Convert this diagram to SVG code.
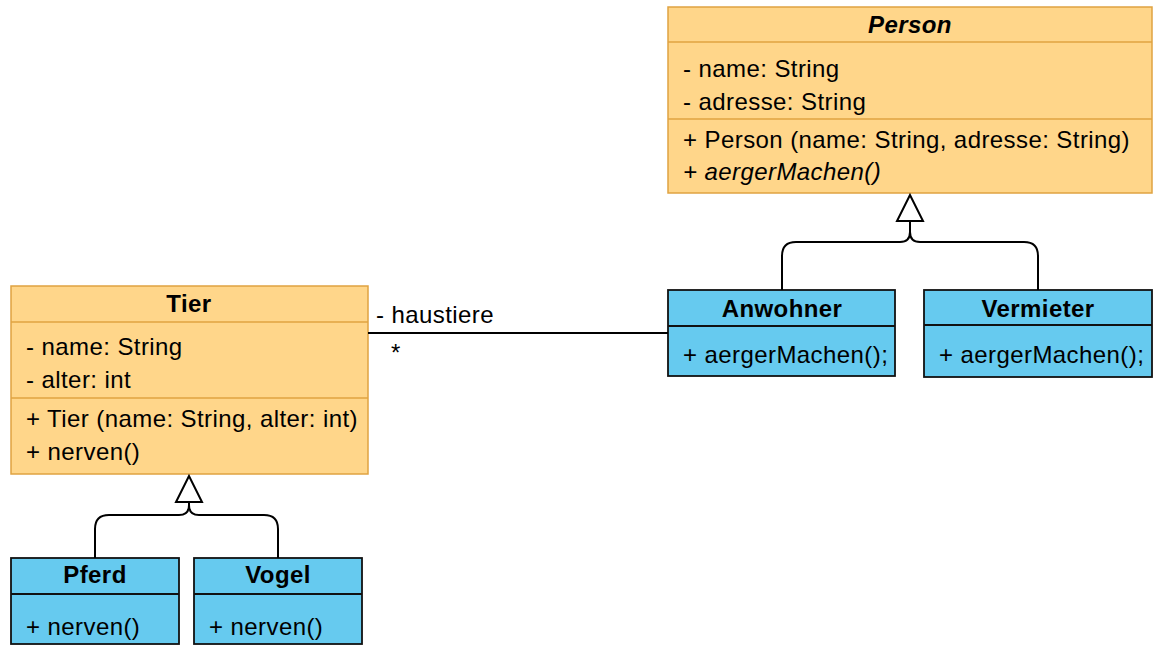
<svg xmlns="http://www.w3.org/2000/svg" width="1162" height="659" viewBox="0 0 1162 659">
<style>
.o{fill:#FFD68A;stroke:#E0A341;stroke-width:1.5}
.b{fill:#66CAEF;stroke:#111;stroke-width:1.8}
.ol{stroke:#E0A341;stroke-width:1.5}
.bl{stroke:#111;stroke-width:1.8}
text{font-family:"Liberation Sans",Arial,sans-serif;font-size:24px;letter-spacing:0.42px;fill:#000}
.h{font-weight:bold;text-anchor:middle}
.c{fill:none;stroke:#000;stroke-width:2}
.t{fill:#fff;stroke:#000;stroke-width:2}
</style>
<rect width="1162" height="659" fill="#fff"/>
<g id="person">
<rect class="o" x="668" y="7" width="484" height="186"/>
<line class="ol" x1="668" y1="42" x2="1152" y2="42"/>
<line class="ol" x1="668" y1="119" x2="1152" y2="119"/>
<text class="h" x="910" y="33" font-style="italic">Person</text>
<text x="683" y="77">- name: String</text>
<text x="683" y="110">- adresse: String</text>
<text x="683" y="148">+ Person (name: String, adresse: String)</text>
<text x="683" y="180" font-style="italic">+ aergerMachen()</text>
</g>
<g id="anwohner">
<rect class="b" x="668" y="290" width="227" height="86"/>
<line class="bl" x1="668" y1="326" x2="895" y2="326"/>
<text class="h" x="782" y="317">Anwohner</text>
<text x="683" y="363">+ aergerMachen();</text>
</g>
<g id="vermieter">
<rect class="b" x="924" y="290" width="228" height="87"/>
<line class="bl" x1="924" y1="325" x2="1152" y2="325"/>
<text class="h" x="1038" y="317">Vermieter</text>
<text x="939" y="363">+ aergerMachen();</text>
</g>
<g id="tier">
<rect class="o" x="11" y="286" width="357" height="188"/>
<line class="ol" x1="11" y1="322" x2="368" y2="322"/>
<line class="ol" x1="11" y1="398" x2="368" y2="398"/>
<text class="h" x="189" y="312">Tier</text>
<text x="26" y="355">- name: String</text>
<text x="26" y="388">- alter: int</text>
<text x="26" y="427">+ Tier (name: String, alter: int)</text>
<text x="26" y="460">+ nerven()</text>
</g>
<g id="pferd">
<rect class="b" x="11" y="558" width="168" height="86"/>
<line class="bl" x1="11" y1="594" x2="179" y2="594"/>
<text class="h" x="95" y="583">Pferd</text>
<text x="26" y="635">+ nerven()</text>
</g>
<g id="vogel">
<rect class="b" x="194" y="558" width="168" height="86"/>
<line class="bl" x1="194" y1="594" x2="362" y2="594"/>
<text class="h" x="278" y="583">Vogel</text>
<text x="209" y="635">+ nerven()</text>
</g>
<g id="connectors">
<path class="c" d="M782 290 V256 Q782 242 796 242 H900 Q910 242 910 232 V221"/>
<path class="c" d="M1038 290 V256 Q1038 242 1024 242 H920 Q910 242 910 232"/>
<polygon class="t" points="910,195 897,221 923,221"/>
<path class="c" d="M95 558 V529 Q95 515 109 515 H179 Q189 515 189 505 V502"/>
<path class="c" d="M278 558 V529 Q278 515 264 515 H199 Q189 515 189 505"/>
<polygon class="t" points="189,476 176,502 202,502"/>
<line class="c" x1="368" y1="333" x2="668" y2="333"/>
<text x="376" y="323">- haustiere</text>
<text x="391" y="361">*</text>
</g>
</svg>
